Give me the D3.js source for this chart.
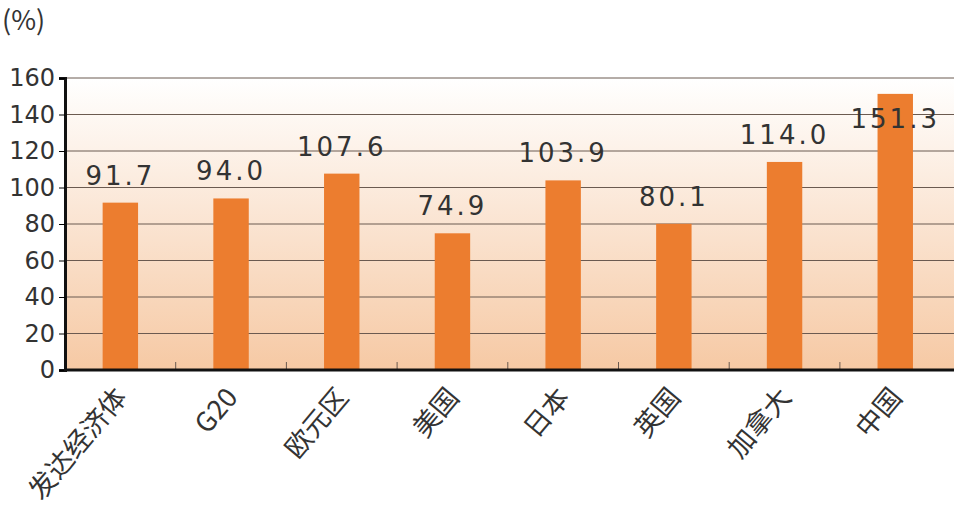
<!DOCTYPE html><html><head><meta charset="utf-8">
<script src="https://cdn.jsdelivr.net/npm/d3@7"></script>
<style>body{margin:0;background:#fff}</style></head><body>
<svg id="c" width="954" height="516"></svg>
<script>
const categories=["发达经济体","G20","欧元区","美国","日本","英国","加拿大","中国"];
const values=[91.7,94.0,107.6,74.9,103.9,80.1,114.0,151.3];
const yTicks=[0,20,40,60,80,100,120,140,160];
const svg=d3.select("#c");
const L=65,R=954,T=78,B=370;
const defs=svg.append("defs");
const g=defs.append("linearGradient").attr("id","bg").attr("x1",0).attr("y1",0).attr("x2",0).attr("y2",1);
g.append("stop").attr("offset","0").attr("stop-color","#ffffff");
g.append("stop").attr("offset","1").attr("stop-color","#f6c9a4");
const x=d3.scaleBand().domain(categories).range([L,L+8*110.7]).paddingInner(0.68).paddingOuter(0.34);
const y=d3.scaleLinear().domain([0,160]).range([B,T]);
svg.append("rect").attr("x",L).attr("y",T).attr("width",R-L).attr("height",B-T).attr("fill","url(#bg)");
svg.append("g").selectAll("line").data(yTicks.slice(1)).join("line")
 .attr("x1",L).attr("x2",R).attr("y1",d=>y(d)).attr("y2",d=>y(d)).attr("stroke","#6b5a50").attr("stroke-width",1);
svg.append("g").selectAll("rect").data(values).join("rect")
 .attr("x",(d,i)=>x(categories[i])).attr("width",x.bandwidth()).attr("y",d=>y(d)).attr("height",d=>B-y(d)).attr("fill","#ec7d2f");
svg.append("g").selectAll("text").data(values).join("text")
 .attr("x",(d,i)=>x(categories[i])+x.bandwidth()/2).attr("y",d=>Math.max(y(d)-18,128))
 .attr("text-anchor","middle").attr("font-family","DejaVu Sans").attr("font-size",26).attr("letter-spacing",3).attr("fill","#333")
 .text(d=>d.toFixed(1));
const ya=svg.append("g").attr("transform",`translate(${L},0)`).call(d3.axisLeft(y).tickValues(yTicks).tickSize(6).tickPadding(4));
ya.select(".domain").attr("stroke","#111").attr("stroke-width",3);
ya.selectAll("text").attr("font-family","DejaVu Sans").attr("font-size",24).attr("fill","#333");
svg.append("g").selectAll("line").data(d3.range(1,8)).join("line")
 .attr("x1",d=>L+d*110.7).attr("x2",d=>L+d*110.7).attr("y1",B).attr("y2",B-8).attr("stroke","#6b5a50");
svg.append("line").attr("x1",L-1).attr("x2",R).attr("y1",B).attr("y2",B).attr("stroke","#111").attr("stroke-width",3);
svg.append("g").selectAll("text").data(categories).join("text")
 .attr("transform",d=>`translate(${x(d)+x.bandwidth()/2+8},${B+28}) rotate(-50)`)
 .attr("text-anchor","end").attr("font-family","Noto Sans CJK SC").attr("font-size",27).attr("fill","#333").text(d=>d);
svg.append("text").attr("x",2).attr("y",30).attr("font-family","Noto Sans CJK SC").attr("font-size",27).attr("fill","#333").text("(%)");
</script></body></html>
